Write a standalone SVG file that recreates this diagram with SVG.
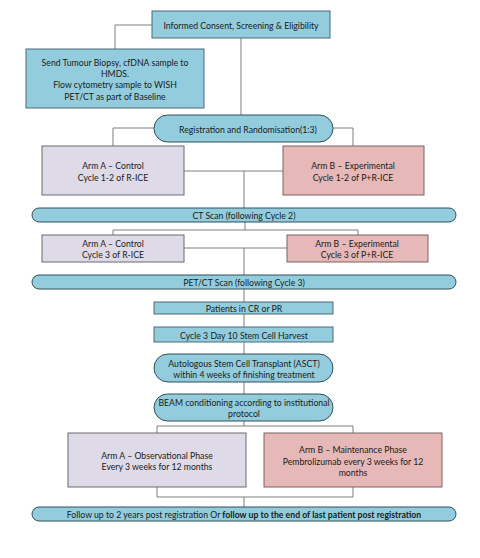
<svg xmlns="http://www.w3.org/2000/svg" width="480" height="558" viewBox="0 0 480 558">
<style>
.t{font-family:Lato,"Open Sans","Liberation Sans",sans-serif;font-size:8.7px;fill:#1a1a1a;text-anchor:middle;dominant-baseline:central}
.teal{fill:#93CDDD;stroke:#4A6A76;stroke-width:1}
.pill{fill:#93CDDD;stroke:#2F4F5A;stroke-width:1}
.lav{fill:#DEDAE7;stroke:#6A6A70;stroke-width:1}
.pink{fill:#E6B9B8;stroke:#7A6262;stroke-width:1}
.c{fill:none;stroke:#7F7F7F;stroke-width:1}
</style>
<rect width="480" height="558" fill="#fff"/>
<g id="connectors">
<path class="c" d="M152,25 H115 V49"/>
<path class="c" d="M241,38 V115"/>
<path class="c" d="M154,128 H113 V146"/>
<path class="c" d="M333,128 H353 V146"/>
<path class="c" d="M184,171 H283 M244,171 V208"/>
<path class="c" d="M245,222 V230 M113,235 V230 H358 V235"/>
<path class="c" d="M184,248 H287 M244,248 V275"/>
<path class="c" d="M244,289 V302 M244,314 V327 M244,342 V354 M244,382 V394 M244,421 V426"/>
<path class="c" d="M157,433 V426 H353 V433"/>
<path class="c" d="M157,487 V497 H353 V487 M244,497 V507"/>
</g>
<g id="consent"><rect class="teal" x="152" y="11" width="178" height="27"/><text class="t" x="241" y="25">Informed Consent, Screening &amp; Eligibility</text></g>
<g id="biopsy"><rect class="teal" x="26" y="49" width="178" height="59"/>
<text class="t" x="115" y="62">Send Tumour Biopsy, cfDNA  sample to</text>
<text class="t" x="115" y="73">HMDS.</text>
<text class="t" x="115" y="84.5">Flow cytometry sample to WISH</text>
<text class="t" x="115" y="96">PET/CT as part of Baseline</text></g>
<g id="registration"><rect class="pill" x="154" y="115" width="179" height="27" rx="13.5"/><text class="t" x="248" y="129">Registration and Randomisation(1:3)</text></g>
<g id="armA1"><rect class="lav" x="42" y="146" width="142" height="49"/><text class="t" x="113" y="165">Arm A – Control</text><text class="t" x="113" y="177">Cycle 1-2 of R-ICE</text></g>
<g id="armB1"><rect class="pink" x="283" y="146" width="141" height="49"/><text class="t" x="353" y="165">Arm B – Experimental</text><text class="t" x="353" y="177">Cycle 1-2 of P+R-ICE</text></g>
<g id="ctscan"><rect class="pill" x="32" y="208" width="424" height="14" rx="7"/><text class="t" x="244" y="215.5">CT Scan (following Cycle 2)</text></g>
<g id="armA2"><rect class="lav" x="42" y="235" width="142" height="27"/><text class="t" x="113" y="243">Arm A – Control</text><text class="t" x="113" y="254">Cycle 3  of R-ICE</text></g>
<g id="armB2"><rect class="pink" x="287" y="235" width="141" height="27"/><text class="t" x="357" y="243">Arm B – Experimental</text><text class="t" x="357" y="254">Cycle 3 of P+R-ICE</text></g>
<g id="petct"><rect class="pill" x="32" y="275" width="424" height="14" rx="7"/><text class="t" x="244" y="282">PET/CT Scan (following Cycle 3)</text></g>
<g id="patients"><rect class="teal" x="154" y="302" width="179" height="12"/><text class="t" x="244" y="308">Patients in CR or PR</text></g>
<g id="harvest"><rect class="teal" x="154" y="327" width="179" height="15"/><text class="t" x="244" y="335">Cycle 3  Day 10 Stem Cell Harvest</text></g>
<g id="asct"><rect class="pill" x="154" y="354" width="179" height="28" rx="14"/><text class="t" x="244" y="363">Autologous Stem Cell Transplant (ASCT)</text><text class="t" x="244" y="374">within 4 weeks of finishing treatment</text></g>
<g id="beam"><rect class="pill" x="154" y="394" width="179" height="27" rx="13.5"/><text class="t" x="244" y="402">BEAM conditioning according to institutional</text><text class="t" x="244" y="413">protocol</text></g>
<g id="armA3"><rect class="lav" x="68" y="433" width="178" height="54"/><text class="t" x="157" y="455">Arm A – Observational Phase</text><text class="t" x="157" y="466">Every 3 weeks for 12 months</text></g>
<g id="armB3"><rect class="pink" x="264" y="433" width="178" height="54"/><text class="t" x="353" y="449">Arm B – Maintenance Phase</text><text class="t" x="353" y="461">Pembrolizumab every 3 weeks for 12</text><text class="t" x="353" y="472">months</text></g>
<g id="followup"><rect class="pill" x="32" y="507" width="424" height="14" rx="7"/><text class="t" x="244" y="514">Follow up to 2 years post registration Or <tspan font-weight="bold">follow up to the end of last patient post registration</tspan></text></g>
</svg>
